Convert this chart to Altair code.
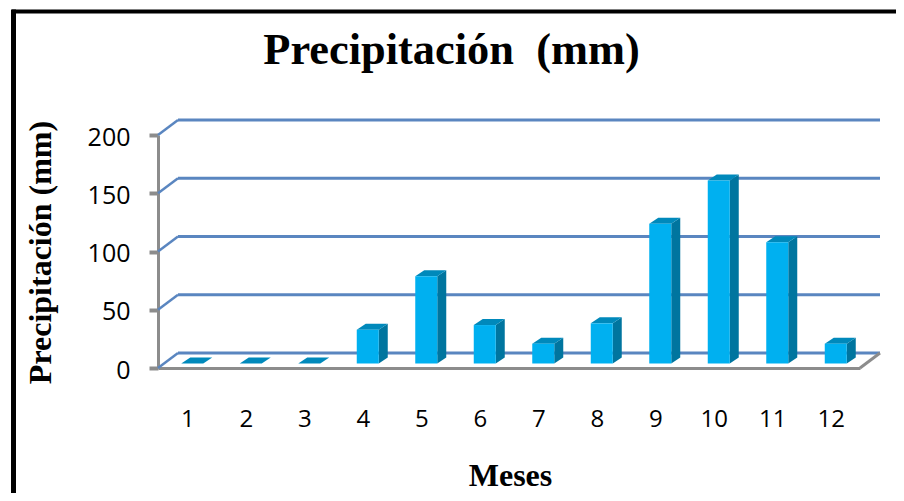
import altair as alt
import pandas as pd

months = list(range(1, 13))
values = [0, 0, 0, 29, 75, 33, 17, 34.5, 120, 157, 104, 17]
y_ticks = [0, 50, 100, 150, 200]

PLOT_W, PLOT_H = 702, 233
XU = 12 / PLOT_W      # data units per pixel, x
YU = 200 / PLOT_H     # data units per pixel, y
WALL_DX, WALL_DY = 20 * XU, 15 * YU
BAR_DX, BAR_DY = 9 * XU, 6 * YU
BAR_SHIFT, BAR_HALF = 5 * XU, 11 * XU
BASE = 4.5 * YU
XMIN, XMAX = 0.5, 12.5

BLUE, GRAY = "#5a86c0", "#8c8c8c"
FRONT, SIDE, TOP = "#00b0f0", "#00759f", "#0089bb"
SERIF, SANS = "Liberation Serif", "Open Sans"

xs = alt.Scale(domain=[XMIN, XMAX], nice=False, zero=False)
ys = alt.Scale(domain=[0, 200], nice=False, zero=False)

front = pd.DataFrame([
    {"x": m + BAR_SHIFT - BAR_HALF, "x2": m + BAR_SHIFT + BAR_HALF, "y": BASE, "y2": BASE + v}
    for m, v in zip(months, values)
])
side = pd.DataFrame([
    row
    for m, v in zip(months, values)
    for row in (
        {"m": m, "x": m + BAR_SHIFT + BAR_HALF, "y": BASE, "y2": BASE + v},
        {"m": m, "x": m + BAR_SHIFT + BAR_HALF + BAR_DX, "y": BASE + BAR_DY, "y2": BASE + v + BAR_DY},
    )
])
top = pd.DataFrame([
    row
    for m, v in zip(months, values)
    for row in (
        {"m": m, "y": BASE + v, "x": m + BAR_SHIFT - BAR_HALF, "x2": m + BAR_SHIFT + BAR_HALF},
        {"m": m, "y": BASE + v + BAR_DY, "x": m + BAR_SHIFT - BAR_HALF + BAR_DX, "x2": m + BAR_SHIFT + BAR_HALF + BAR_DX},
    )
])
grid = pd.DataFrame([
    {"x": XMIN + WALL_DX, "x2": XMAX + WALL_DX, "y": v + WALL_DY} for v in y_ticks
])
diag = pd.DataFrame([
    row for v in y_ticks for row in (
        {"v": v, "x": XMIN, "y": v},
        {"v": v, "x": XMIN + WALL_DX, "y": v + WALL_DY},
    )
])
floor_edge = pd.DataFrame([
    {"x": XMAX, "y": 0},
    {"x": XMAX + WALL_DX, "y": WALL_DY},
])

X = alt.X("x:Q", scale=xs, axis=None)
Y = alt.Y("y:Q", scale=ys, axis=None)

axes = alt.Chart(pd.DataFrame({"x": [XMIN], "y": [0]})).mark_point(opacity=0).encode(
    x=alt.X("x:Q", scale=xs, axis=alt.Axis(
        values=months, format="d", title="Meses", grid=False, ticks=False,
        domainColor=GRAY, domainWidth=3, labelFont=SANS, labelFontSize=24,
        labelColor="#000000", labelPadding=39, labelFlush=False,
        labelOverlap=False, titleFont=SERIF, titleFontWeight="bold", titleFontSize=32,
        titleColor="#000000", titleX=352, titleY=117, titleBaseline="alphabetic",
        titleAnchor="middle", titleAlign="center")),
    y=alt.Y("y:Q", scale=ys, axis=alt.Axis(
        values=y_ticks, format="d", title="Precipitación (mm)", grid=False,
        domainColor=GRAY, domainWidth=3, tickColor=GRAY, tickWidth=4, tickSize=9,
        labelFont=SANS, labelFontSize=25, labelColor="#000000", labelPadding=19,
        labelOffset=2, titleFont=SERIF, titleFontWeight="bold", titleFontSize=32,
        titleColor="#000000", titleX=-108, titleY=117, titleBaseline="alphabetic",
        titleAnchor="middle", titleAlign="center")),
)

grid_layer = alt.Chart(grid).mark_rule(color=BLUE, strokeWidth=3).encode(x=X, x2="x2:Q", y=Y)
diag_layer = alt.Chart(diag).mark_line(color=BLUE, strokeWidth=2.5).encode(x=X, y=Y, detail="v:N")
floor_layer = alt.Chart(floor_edge).mark_line(color=GRAY, strokeWidth=3).encode(x=X, y=Y)
side_layer = alt.Chart(side).mark_area(color=SIDE, orient="vertical").encode(
    x=X, y=alt.Y("y:Q", scale=ys, axis=None, stack=None), y2="y2:Q", detail="m:N")
top_layer = alt.Chart(top).mark_area(color=TOP, orient="horizontal").encode(
    y=Y, x=alt.X("x:Q", scale=xs, axis=None, stack=None), x2="x2:Q", detail="m:N")
front_layer = alt.Chart(front).mark_rect(color=FRONT).encode(x=X, x2="x2:Q", y=Y, y2="y2:Q")

border_top = alt.Chart(pd.DataFrame({"a": [0]})).mark_rule(color="#000000", strokeWidth=4).encode(
    x=alt.value(-146), x2=alt.value(738), y=alt.value(-123.5))
border_left = alt.Chart(pd.DataFrame({"a": [0]})).mark_rule(color="#000000", strokeWidth=5).encode(
    x=alt.value(-144.5), y=alt.value(-125.5), y2=alt.value(358))
title_layer = alt.Chart(pd.DataFrame({"t": ["Precipitación\u00a0 (mm)"]})).mark_text(
    font=SERIF, fontWeight="bold", fontSize=44.4, color="#000000",
    align="center", baseline="alphabetic",
).encode(text="t:N", x=alt.value(293.5), y=alt.value(-71))

chart = alt.layer(
    border_top, border_left, axes, grid_layer, diag_layer, floor_layer,
    side_layer, top_layer, front_layer, title_layer,
).resolve_axis(x="independent", y="independent").properties(
    width=PLOT_W,
    height=PLOT_H,
    padding={"left": 150, "top": 127, "right": 36, "bottom": 125},
    autosize=alt.AutoSizeParams(type="none"),
    background="#ffffff",
).configure_view(stroke=None)

chart.save("out.html", embed_options={"renderer": "svg", "actions": False})
